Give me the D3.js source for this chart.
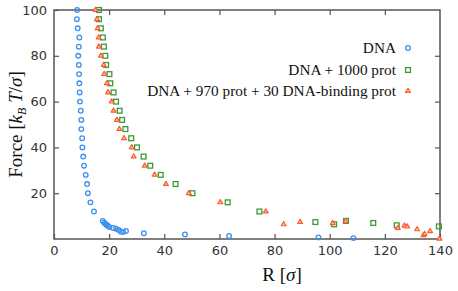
<!DOCTYPE html>
<html>
<head>
<meta charset="utf-8">
<script src="https://cdn.jsdelivr.net/npm/d3@7"></script>
<style>
  body { margin: 0; background: #fff; }
  svg { display: block; }
</style>
</head>
<body>
<svg id="chart" width="458" height="291"></svg>
<script>
// ---- data ----
var forceSteps = [100, 96, 92, 88, 84, 80, 76, 72, 68, 64, 60, 56, 52, 48, 44, 40, 36, 32, 28, 24, 20, 16, 12];

// DNA only
var dnaR = [8.4, 8.3, 8.6, 9.2, 9.0, 8.8, 9.0, 9.1, 9.2, 9.3, 9.4, 9.7, 9.9, 9.9, 10.2, 10.3, 10.6, 10.9, 11.5, 12.0, 12.3, 13.2, 14.5,
            17.7, 18.2, 18.7, 19.1, 19.6, 20.1, 21.5, 22.5, 23.5, 24.3, 25.1, 26.1, 32.6, 47.5, 63.5, 95.9, 108.6];
var dnaF = forceSteps.concat([7.9, 7.1, 6.6, 6.1, 5.7, 5.2, 4.8, 4.5, 3.9, 3.2, 3.1, 3.5, 2.5, 2.0, 1.3, 0.7, 0.4]);

// DNA + 1000 prot
var protR = [16.3, 16.3, 17.0, 17.7, 18.1, 18.6, 18.9, 20.1, 20.4, 21.6, 22.5, 23.8, 24.7, 25.9, 28.0, 30.1,
             32.5, 34.9, 38.7, 44.1, 50.2, 63.0, 74.5, 94.8, 101.6, 105.9, 115.8, 124.3, 139.6];
var protF = forceSteps.concat([7.4, 6.4, 7.9, 7.0, 6.0, 5.5]);

// DNA + 970 prot + 30 DNA-binding prot
var bindR = [15.1, 15.6, 15.8, 16.2, 16.3, 17.0, 18.0, 18.2, 19.2, 19.6, 20.9, 21.6, 22.8, 23.7, 25.4, 28.2,
             28.9, 32.9, 36.5, 40.6, 48.9, 60.3, 76.8, 83.3, 89.3, 101.1, 105.8, 124.7, 127.1, 128.1, 131.7, 134.0, 134.4, 136.4, 139.8];
var bindF = forceSteps.concat([6.4, 7.4, 6.9, 7.7, 4.8, 5.8, 5.4, 4.2, 1.6, 2.2, 3.4, 0.1]);

var xTicks = [0, 20, 40, 60, 80, 100, 120, 140];
var yTicks = [20, 40, 60, 80, 100];

var seriesNames = ["DNA", "DNA + 1000 prot", "DNA + 970 prot + 30 DNA-binding prot"];
var seriesColors = ["#3b8ff0", "#3a9a3a", "#ff5a2a"];

(function() {

	// ---- layout ----
	var mLeft = 54, mRight = 440, mTop = 10, mBottom = 239;
	var svg = d3.select("#chart");

	var x = d3.scaleLinear().domain([0, 140]).range([mLeft, mRight]);
	var y = d3.scaleLinear().domain([0, 100]).range([mBottom, mTop]);

	var axisColor = "#555";
	var tickFont = "DejaVu Sans, sans-serif";
	var serif = "Liberation Serif, Times New Roman, serif";

	// axes with inward ticks, mirrored on top and right
	function styleAxis(g) {
		g.select(".domain").remove();
		g.selectAll(".tick line").attr("stroke", axisColor).attr("stroke-width", 1.2);
		g.selectAll(".tick text").attr("fill", "#333").style("font-family", tickFont).style("font-size", "13px");
	}

	svg.append("g")
		.attr("transform", "translate(0," + mBottom + ")")
		.call(d3.axisBottom(x).tickValues(xTicks).tickSizeInner(-5).tickSizeOuter(0).tickPadding(7))
		.call(styleAxis);
	svg.append("g")
		.attr("transform", "translate(0," + mTop + ")")
		.call(d3.axisTop(x).tickValues(xTicks.slice(1, -1)).tickSizeInner(-5).tickSizeOuter(0).tickFormat(""))
		.call(styleAxis);
	svg.append("g")
		.attr("transform", "translate(" + mLeft + ",0)")
		.call(d3.axisLeft(y).tickValues(yTicks).tickSizeInner(-5).tickSizeOuter(0).tickPadding(7))
		.call(styleAxis);
	svg.append("g")
		.attr("transform", "translate(" + mRight + ",0)")
		.call(d3.axisRight(y).tickValues(yTicks.slice(0, -1)).tickSizeInner(-5).tickSizeOuter(0).tickFormat(""))
		.call(styleAxis);

	svg.append("rect")
		.attr("x", mLeft).attr("y", mTop)
		.attr("width", mRight - mLeft).attr("height", mBottom - mTop)
		.attr("fill", "none").attr("stroke", axisColor).attr("stroke-width", 1.5);

	// ---- markers ----
	function pairs(xs, ys) {
		return xs.map(function(v, i) { return [v, ys[i]]; });
	}
	function drawCircles(xs, ys, color) {
		svg.append("g").selectAll("circle")
			.data(pairs(xs, ys))
			.join("circle")
			.attr("cx", function(d) { return x(d[0]); })
			.attr("cy", function(d) { return y(d[1]); })
			.attr("r", 2.3)
			.attr("fill", "none").attr("stroke", color).attr("stroke-width", 1.3);
	}
	function drawSquares(xs, ys, color) {
		svg.append("g").selectAll("rect")
			.data(pairs(xs, ys))
			.join("rect")
			.attr("x", function(d) { return x(d[0]) - 2.4; })
			.attr("y", function(d) { return y(d[1]) - 2.4; })
			.attr("width", 4.8).attr("height", 4.8)
			.attr("fill", "none").attr("stroke", color).attr("stroke-width", 1.3);
	}
	var triSym = d3.symbol().type(d3.symbolTriangle).size(10);
	function drawTriangles(xs, ys, color) {
		svg.append("g").selectAll("path")
			.data(pairs(xs, ys))
			.join("path")
			.attr("d", triSym)
			.attr("transform", function(d) { return "translate(" + x(d[0]) + "," + y(d[1]) + ")"; })
			.attr("fill", "#ffc4ad").attr("stroke", color).attr("stroke-width", 1.2)
			.attr("stroke-linejoin", "round");
	}

	drawCircles(dnaR, dnaF, seriesColors[0]);
	drawSquares(protR, protF, seriesColors[1]);
	drawTriangles(bindR, bindF, seriesColors[2]);

	// ---- legend ----
	var legY = [48, 70, 91];
	var legend = svg.append("g");
	seriesNames.forEach(function(name, i) {
		legend.append("text")
			.attr("x", 396).attr("y", legY[i] + 5)
			.attr("text-anchor", "end")
			.style("font-family", serif).style("font-size", "15.3px").attr("fill", "#111")
			.text(name);
	});
	legend.append("circle").attr("cx", 408).attr("cy", legY[0]).attr("r", 2.3)
		.attr("fill", "none").attr("stroke", seriesColors[0]).attr("stroke-width", 1.3);
	legend.append("rect").attr("x", 405.6).attr("y", legY[1] - 2.4).attr("width", 4.8).attr("height", 4.8)
		.attr("fill", "none").attr("stroke", seriesColors[1]).attr("stroke-width", 1.3);
	legend.append("path").attr("d", triSym).attr("transform", "translate(408," + legY[2] + ")")
		.attr("fill", "#ffc4ad").attr("stroke", seriesColors[2]).attr("stroke-width", 1.2)
		.attr("stroke-linejoin", "round");

	// ---- axis titles ----
	var xt = svg.append("text")
		.attr("x", 282).attr("y", 281)
		.attr("text-anchor", "middle")
		.style("font-family", serif).style("font-size", "19px").attr("fill", "#111");
	xt.append("tspan").text("R  [");
	xt.append("tspan").style("font-style", "italic").text("σ");
	xt.append("tspan").text("]");

	var yt = svg.append("text")
		.attr("transform", "translate(22," + ((mTop + mBottom) / 2) + ") rotate(-90)")
		.attr("text-anchor", "middle")
		.style("font-family", serif).style("font-size", "19px").attr("fill", "#111");
	yt.append("tspan").text("Force  [");
	yt.append("tspan").style("font-style", "italic").text("k");
	yt.append("tspan").attr("dy", 4).style("font-size", "12px").style("font-style", "italic").text("B");
	yt.append("tspan").attr("dy", -4).text(" ");
	yt.append("tspan").style("font-style", "italic").text("T");
	yt.append("tspan").text("/");
	yt.append("tspan").style("font-style", "italic").text("σ");
	yt.append("tspan").text("]");

})();
</script>
</body>
</html>
